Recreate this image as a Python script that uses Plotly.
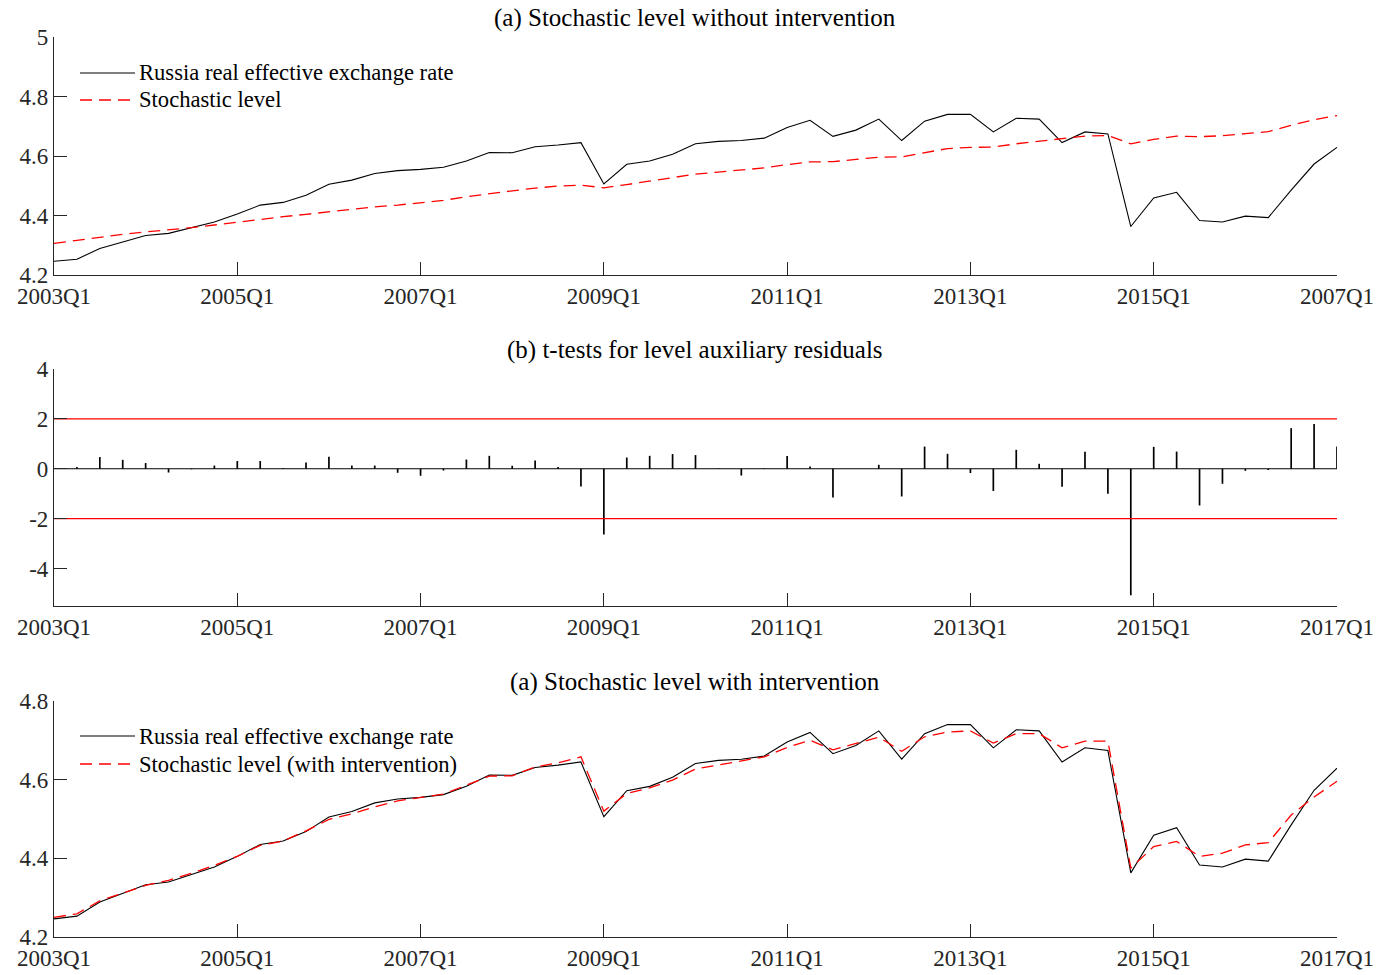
import plotly.graph_objects as go

# Quarterly periods 2003Q1 .. 2017Q1
quarters = [f"{y}Q{q}" for y in range(2003, 2018) for q in range(1, 5)][:57]

# Russia real effective exchange rate (log)
reer = [
    4.246, 4.253, 4.289, 4.310, 4.333, 4.340, 4.358, 4.378, 4.405, 4.435,
    4.444, 4.468, 4.505, 4.519, 4.541, 4.551, 4.555, 4.562, 4.583, 4.612,
    4.611, 4.631, 4.637, 4.645, 4.506, 4.572, 4.583, 4.606, 4.641, 4.649,
    4.652, 4.660, 4.696, 4.720, 4.666, 4.687, 4.724, 4.652, 4.717, 4.740,
    4.740, 4.681, 4.727, 4.724, 4.645, 4.681, 4.674, 4.363, 4.459, 4.478,
    4.383, 4.378, 4.398, 4.393, 4.485, 4.573, 4.629,
]

# Smoothed stochastic level, model without intervention
level_plain = [
    4.306, 4.317, 4.328, 4.337, 4.345, 4.351, 4.359, 4.368, 4.378, 4.387,
    4.396, 4.404, 4.413, 4.421, 4.429, 4.435, 4.442, 4.451, 4.463, 4.474,
    4.483, 4.492, 4.499, 4.502, 4.493, 4.504, 4.515, 4.527, 4.539, 4.546,
    4.552, 4.560, 4.571, 4.580, 4.581, 4.588, 4.596, 4.597, 4.611, 4.625,
    4.629, 4.630, 4.641, 4.650, 4.657, 4.667, 4.669, 4.641, 4.656, 4.667,
    4.665, 4.668, 4.675, 4.682, 4.703, 4.722, 4.736,
]

# Smoothed stochastic level, model with intervention
level_interv = [
    4.250, 4.259, 4.292, 4.312, 4.331, 4.344, 4.362, 4.382, 4.405, 4.433,
    4.444, 4.470, 4.499, 4.513, 4.531, 4.546, 4.554, 4.563, 4.586, 4.609,
    4.610, 4.632, 4.643, 4.658, 4.520, 4.565, 4.579, 4.599, 4.627, 4.637,
    4.648, 4.658, 4.682, 4.700, 4.676, 4.692, 4.708, 4.672, 4.709, 4.721,
    4.724, 4.693, 4.717, 4.717, 4.681, 4.698, 4.698, 4.375, 4.430, 4.443,
    4.405, 4.413, 4.434, 4.440, 4.510, 4.556, 4.596,
]

# t-tests for level auxiliary residuals
t_level = [
    0.02, 0.07, 0.47, 0.36, 0.23, -0.15, -0.02, 0.13, 0.31, 0.31,
    0.03, 0.25, 0.48, 0.13, 0.13, -0.16, -0.28, -0.07, 0.37, 0.52,
    0.12, 0.33, 0.07, -0.71, -2.63, 0.45, 0.52, 0.59, 0.55, 0.02,
    -0.27, 0.02, 0.51, 0.09, -1.15, -0.01, 0.16, -1.11, 0.89, 0.60,
    -0.17, -0.89, 0.76, 0.20, -0.72, 0.68, -1.00, -5.07, 0.88, 0.69,
    -1.47, -0.60, -0.08, -0.05, 1.63, 1.80, 0.89,
]
critical = [-2, 2]

# Legend labels
legend_top = ["Russia real effective exchange rate", "Stochastic level"]
legend_bottom = ["Russia real effective exchange rate", "Stochastic level (with intervention)"]

# Panel titles
titles = [
    "(a) Stochastic level without intervention",
    "(b) t-tests for level auxiliary residuals",
    "(a) Stochastic level with intervention",
]

# Tick labels
x_tick_idx = [0, 8, 16, 24, 32, 40, 48, 56]
x_labels_top = ["2003Q1", "2005Q1", "2007Q1", "2009Q1", "2011Q1", "2013Q1", "2015Q1", "2007Q1"]
x_labels = ["2003Q1", "2005Q1", "2007Q1", "2009Q1", "2011Q1", "2013Q1", "2015Q1", "2017Q1"]
y_ticks_a = [4.2, 4.4, 4.6, 4.8, 5.0]
y_labels_a = ["4.2", "4.4", "4.6", "4.8", "5"]
y_ticks_b = [-4, -2, 0, 2, 4]
y_labels_b = ["-4", "-2", "0", "2", "4"]
y_ticks_c = [4.2, 4.4, 4.6, 4.8]
y_labels_c = ["4.2", "4.4", "4.6", "4.8"]

FONT = "Liberation Serif"
INK = "#262626"
RED = "#ff0000"
DASH = "12px,7px"
LW = 1.1
DLW = 1.3

W, H = 1379, 975


def py(top, bottom):
    return [(H - bottom) / H, (H - top) / H]


def px_y(v):
    return (H - v) / H


x_dom = [54 / W, 1337 / W]

fig = go.Figure()

# Panel (a): without intervention
fig.add_trace(go.Scatter(x=quarters, y=reer, mode="lines",
                         line=dict(color="black", width=LW),
                         name=legend_top[0], xaxis="x", yaxis="y"))
fig.add_trace(go.Scatter(x=quarters, y=level_plain, mode="lines",
                         line=dict(color=RED, width=DLW, dash=DASH),
                         name=legend_top[1], xaxis="x", yaxis="y"))

# Panel (b): stems of auxiliary residual t-tests
stem_x, stem_y = [], []
for q, v in zip(quarters, t_level):
    stem_x += [q, q, None]
    stem_y += [0, v, None]
fig.add_trace(go.Scatter(x=stem_x, y=stem_y, mode="lines",
                         line=dict(color="black", width=1.7),
                         xaxis="x2", yaxis="y2"))
fig.add_trace(go.Scatter(x=[quarters[0], quarters[-1]], y=[0, 0], mode="lines",
                         line=dict(color="black", width=1.1),
                         xaxis="x2", yaxis="y2"))
for c in critical:
    fig.add_trace(go.Scatter(x=[quarters[0], quarters[-1]], y=[c, c], mode="lines",
                             line=dict(color=RED, width=1.2),
                             xaxis="x2", yaxis="y2"))

# Panel (c): with intervention
fig.add_trace(go.Scatter(x=quarters, y=reer, mode="lines",
                         line=dict(color="black", width=LW),
                         name=legend_bottom[0], xaxis="x3", yaxis="y3"))
fig.add_trace(go.Scatter(x=quarters, y=level_interv, mode="lines",
                         line=dict(color=RED, width=DLW, dash=DASH),
                         name=legend_bottom[1], xaxis="x3", yaxis="y3"))

tickfont = dict(family=FONT, size=23, color=INK)


def xaxis(anchor, labels):
    return dict(domain=x_dom, anchor=anchor, type="category",
                categoryorder="array", categoryarray=quarters,
                range=[0, len(quarters) - 1], automargin=False,
                tickmode="array", tickvals=[quarters[i] for i in x_tick_idx],
                ticktext=labels, ticks="inside", ticklen=13, tickwidth=1.2,
                tickcolor=INK, showline=True, linecolor=INK, linewidth=1.2,
                showgrid=False, zeroline=False, tickfont=tickfont)


def yaxis(anchor, dom, rng, vals, labels):
    return dict(domain=dom, anchor=anchor, range=rng, tickmode="array",
                tickvals=vals, ticktext=labels, ticks="inside", ticklen=13,
                tickwidth=1.2, tickcolor=INK, showline=True, linecolor=INK,
                linewidth=1.2, showgrid=False, zeroline=False, tickfont=tickfont,
                automargin=False)


# Legend boxes: key line samples plus labels, placed in the upper-left corner
shapes, annotations = [], []
legend_rows = [(legend_top, [73, 100]), (legend_bottom, [736, 764])]
for labels, rows in legend_rows:
    styles = [dict(color="black", width=LW), dict(color=RED, width=DLW, dash=DASH)]
    for label, row, style in zip(labels, rows, styles):
        shapes.append(dict(type="line", xref="paper", yref="paper",
                           x0=80 / W, x1=135 / W, y0=px_y(row), y1=px_y(row),
                           line=style))
        annotations.append(dict(text=label, x=137 / W, y=px_y(row),
                                xanchor="left", yanchor="middle",
                                font=dict(family=FONT, size=22.6, color="black")))

for text, row in zip(titles, [18, 350, 682]):
    annotations.append(dict(text=text, x=695 / W, y=px_y(row),
                            xanchor="center", yanchor="middle",
                            font=dict(family=FONT, size=25, color="black")))

fig.update_layout(
    width=W, height=H,
    margin=dict(l=0, r=0, t=0, b=0, autoexpand=False),
    paper_bgcolor="white", plot_bgcolor="white",
    showlegend=False,
    font=dict(family=FONT, size=23, color=INK),
    xaxis=xaxis("y", x_labels_top),
    yaxis=yaxis("x", py(37, 275), [4.2, 5.0], y_ticks_a, y_labels_a),
    xaxis2=xaxis("y2", x_labels),
    yaxis2=yaxis("x2", py(369, 606), [-5.5, 4], y_ticks_b, y_labels_b),
    xaxis3=xaxis("y3", x_labels),
    yaxis3=yaxis("x3", py(701, 937), [4.2, 4.8], y_ticks_c, y_labels_c),
    shapes=shapes,
    annotations=annotations,
)
fig.update_annotations(xref="paper", yref="paper", showarrow=False)

fig.write_html("out.html")
